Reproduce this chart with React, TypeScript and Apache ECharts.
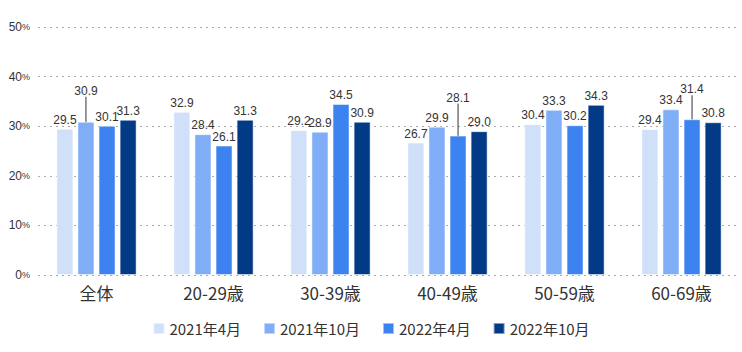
import React, { useEffect, useRef } from "react";
import * as echarts from "echarts";

const categories = ["全体", "20-29歳", "30-39歳", "40-49歳", "50-59歳", "60-69歳"];
const seriesNames = ["2021年4月", "2021年10月", "2022年4月", "2022年10月"];
const s2021Apr = [29.5, 32.9, 29.2, 26.7, 30.4, 29.4];
const s2021Oct = [30.9, 28.4, 28.9, 29.9, 33.3, 33.4];
const s2022Apr = [30.1, 26.1, 34.5, 28.1, 30.2, 31.4];
const s2022Oct = [31.3, 31.3, 30.9, 29.0, 34.3, 30.8];
const colors = ["#d0e0f9", "#7fadf6", "#3c83f1", "#023a86"];
// label shifts (series index, category index, dy)
const shifted: [number, number, number][] = [
  [1, 0, -22],
  [2, 3, -29],
  [2, 5, -21],
];

const numFont = "'Liberation Sans', Arial, sans-serif";
const cjkFont = "'Noto Sans CJK JP', 'Noto Sans', sans-serif";

export default function App() {
  const ref = useRef<HTMLDivElement>(null);
  useEffect(() => {
    if (!ref.current) return;
    const chart = echarts.init(ref.current, null, { renderer: "svg" });
    const all = [s2021Apr, s2021Oct, s2022Apr, s2022Oct];
    chart.setOption({
      animation: false,
      textStyle: { fontFamily: cjkFont },
      grid: { left: 38, right: 2, top: 27, bottom: 77 },
      legend: {
        bottom: 11,
        left: "center",
        itemWidth: 11,
        itemHeight: 11,
        itemGap: 22,
        icon: "rect",
        textStyle: { fontSize: 15, color: "#333", fontFamily: cjkFont },
        data: seriesNames,
      },
      xAxis: {
        type: "category",
        data: categories,
        axisLine: { show: false },
        axisTick: { show: false },
        axisLabel: { fontSize: 17, color: "#333", margin: 9, fontFamily: cjkFont },
      },
      yAxis: {
        type: "value",
        min: 0,
        max: 50,
        interval: 10,
        axisLine: { show: false },
        axisTick: { show: false },
        splitLine: { lineStyle: { type: [2, 4], color: "#aaa", width: 1 } },
        axisLabel: {
          margin: 8,
          formatter: (v: number) => `{n|${v}}{p|%}`,
          rich: {
            n: { fontSize: 12, color: "#333", fontFamily: numFont },
            p: { fontSize: 9, color: "#333", fontFamily: numFont },
          },
        },
      },
      series: all.map((arr, si) => ({
        name: seriesNames[si],
        type: "bar",
        barWidth: 17,
        barGap: "24%",
        itemStyle: { color: colors[si], borderColor: "rgba(255,255,255,0.5)", borderWidth: 1 },
        label: {
          show: true,
          position: "top",
          distance: 3,
          fontSize: 12,
          color: "#333",
          fontFamily: numFont,
          formatter: (p: any) => Number(p.value).toFixed(1),
        },
        labelLayout: (p: any) => {
          const m = shifted.find((s) => s[0] === si && s[1] === p.dataIndex);
          return m ? { dy: m[2] } : {};
        },
        data: arr.map((v, ci) => {
          const m = shifted.find((s) => s[0] === si && s[1] === ci);
          return m
            ? { value: v, labelLine: { show: true, lineStyle: { color: "#333", width: 1 } } }
            : { value: v, labelLine: { show: false } };
        }),
      })),
    });
    return () => chart.dispose();
  }, []);
  return <div ref={ref} style={{ width: 742, height: 352, position: "absolute", left: 0, top: 0 }} />;
}
